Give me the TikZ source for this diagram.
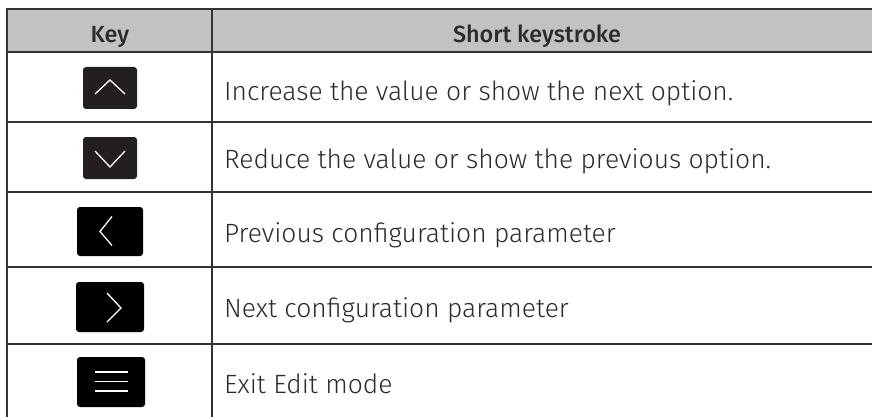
\documentclass[tikz,border=0pt]{standalone}
\usepackage{fontspec}
\setmainfont{Fira Sans Light}[BoldFont=Fira Sans Medium]
\definecolor{rulegray}{HTML}{333333}
\definecolor{headgray}{HTML}{C2C2C2}
\definecolor{txtgray}{HTML}{2B2B2B}
\definecolor{keydark}{HTML}{231F20}
\begin{document}
\begin{tikzpicture}[x=1pt,y=-1pt,
  rulel/.style={draw=rulegray, line width=2pt},
  keybox/.style={inner sep=0pt, rounded corners=3pt, draw=none},
  chev/.style={draw=white, line width=1.3pt},
  celltxt/.style={anchor=base west, inner sep=0pt, text=txtgray, font=\fontsize{26.4}{30}\selectfont},
  headtxt/.style={anchor=base, inner sep=0pt, text=txtgray, font=\bfseries\fontsize{23.4}{28}\selectfont}]
\useasboundingbox (0,0) rectangle (872,417);
% header background
\fill[headgray] (7,9) rectangle (872,52.5);
% rules
\draw[rulel] (6,9) -- (872,9);
\draw[rulel] (6,52.5) -- (872,52.5);
\draw[rulel] (6,122) -- (872,122);
\draw[rulel] (6,192) -- (872,192);
\draw[rulel] (6,267) -- (872,267);
\draw[rulel] (6,344) -- (872,344);
\draw[rulel] (7,8) -- (7,417);
\draw[rulel] (212,8) -- (212,417);
% header texts
\node[headtxt] (hkey) at (110,42.5) {Key};
\node[headtxt] (hshort) at (537,42.5) {Short keystroke};
% keys
\node[keybox, fill=keydark, minimum width=54pt, minimum height=42pt] (k1) at (110,88) {};
\node[keybox, fill=keydark, minimum width=54pt, minimum height=42pt] (k2) at (110,158) {};
\node[keybox, fill=black, minimum width=66pt, minimum height=49pt] (k3) at (110,231.5) {};
\node[keybox, fill=black, minimum width=68pt, minimum height=50pt] (k4) at (110,307) {};
\node[keybox, fill=black, minimum width=68pt, minimum height=50pt] (k5) at (111,382) {};
% glyphs
\draw[chev] ([shift={(-15,6)}]k1.center) -- ([shift={(0,-8)}]k1.center) -- ([shift={(15,6)}]k1.center);
\draw[chev] ([shift={(-15,-7)}]k2.center) -- ([shift={(0,9)}]k2.center) -- ([shift={(15,-7)}]k2.center);
\draw[chev] ([shift={(2,-15)}]k3.center) -- ([shift={(-10,0)}]k3.center) -- ([shift={(2,14)}]k3.center);
\draw[chev] ([shift={(-3,-14)}]k4.center) -- ([shift={(11,1)}]k4.center) -- ([shift={(-3,15)}]k4.center);
\draw[chev] ([shift={(-16,-10)}]k5.center) -- ([shift={(17,-10)}]k5.center);
\draw[chev] ([shift={(-16,-0.5)}]k5.center) -- ([shift={(17,-0.5)}]k5.center);
\draw[chev] ([shift={(-16,9)}]k5.center) -- ([shift={(17,9)}]k5.center);
% descriptions
\node[celltxt] (t1) at (224,101) {Increase the value or show the next option.};
\node[celltxt] (t2) at (224,168) {Reduce the value or show the previous option.};
\node[celltxt] (t3) at (224,242) {Previous configuration parameter};
\node[celltxt] (t4) at (224,317) {Next configuration parameter};
\node[celltxt] (t5) at (224,393) {Exit Edit mode};
\end{tikzpicture}
\end{document}
